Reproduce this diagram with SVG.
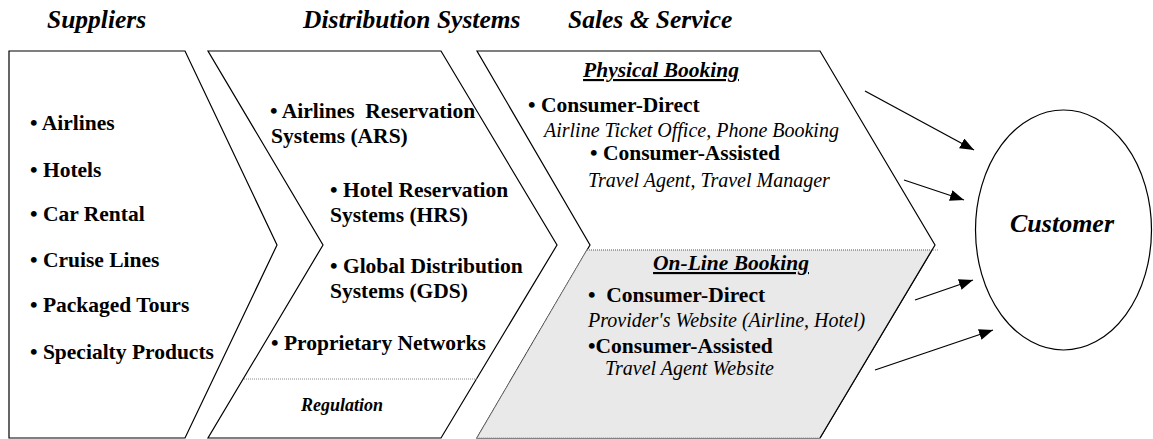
<svg xmlns="http://www.w3.org/2000/svg" width="1153" height="439" viewBox="0 0 1153 439">
  <style>
    .box { fill: #ffffff; stroke: #000000; stroke-width: 1.2; stroke-linejoin: miter; }
    .shade { fill: #e9e9e9; stroke: #8a8a8a; stroke-width: 1; stroke-dasharray: 1 1; }
    .rule { stroke: #8a8a8a; stroke-width: 1; stroke-dasharray: 1 1; fill: none; }
    .hdr { font-family: "Liberation Serif", "Times New Roman", serif; font-weight: bold; font-style: italic; font-size: 25.5px; fill: #000; }
    .item { font-family: "Liberation Serif", "Times New Roman", serif; font-weight: bold; font-size: 21.5px; fill: #000; white-space: pre; }
    .note { font-family: "Liberation Serif", "Times New Roman", serif; font-style: italic; font-size: 20px; fill: #000; }
    .title { font-family: "Liberation Serif", "Times New Roman", serif; font-weight: bold; font-style: italic; font-size: 21.5px; fill: #000; text-decoration: underline; }
    .small { font-family: "Liberation Serif", "Times New Roman", serif; font-weight: bold; font-style: italic; font-size: 18px; fill: #000; }
    .cust { font-family: "Liberation Serif", "Times New Roman", serif; font-weight: bold; font-style: italic; font-size: 26px; fill: #000; }
    .conn { stroke: #000; stroke-width: 1.3; fill: none; marker-end: url(#head); }
  </style>
  <defs>
    <marker id="head" markerUnits="userSpaceOnUse" markerWidth="15" markerHeight="12" refX="14" refY="5.5" orient="auto">
      <path d="M0,0 L14,5.5 L0,11 Z" fill="#000"/>
    </marker>
  </defs>

  <rect x="0" y="0" width="1153" height="439" fill="#ffffff"/>

  <!-- column headings -->
  <g id="headings">
    <text class="hdr" x="47" y="28">Suppliers</text>
    <text class="hdr" x="303" y="28">Distribution Systems</text>
    <text class="hdr" x="568" y="28">Sales &amp; Service</text>
  </g>

  <!-- suppliers chevron -->
  <g id="suppliers">
    <polygon class="box" points="9,51 185,51 277,245 185,438 9,438"/>
    <text class="item" x="30" y="130">• Airlines</text>
    <text class="item" x="30" y="177">• Hotels</text>
    <text class="item" x="30" y="221">• Car Rental</text>
    <text class="item" x="30" y="267">• Cruise Lines</text>
    <text class="item" x="30" y="312">• Packaged Tours</text>
    <text class="item" x="30" y="359">• Specialty Products</text>
  </g>

  <!-- distribution systems chevron -->
  <g id="distribution">
    <polygon class="box" points="208,51 441,51 557,245 441,438 208,438 323,245"/>
    <line class="rule" x1="244" y1="379" x2="477" y2="379"/>
    <text class="item" x="270" y="118">• Airlines  Reservation</text>
    <text class="item" x="271" y="143">Systems (ARS)</text>
    <text class="item" x="330" y="197">• Hotel Reservation</text>
    <text class="item" x="330" y="222">Systems (HRS)</text>
    <text class="item" x="330" y="273">• Global Distribution</text>
    <text class="item" x="330" y="298">Systems (GDS)</text>
    <text class="item" x="271" y="350">• Proprietary Networks</text>
    <text class="small" x="342" y="411" text-anchor="middle">Regulation</text>
  </g>

  <!-- sales & service chevron, split into physical and on-line booking -->
  <g id="sales">
    <polygon class="box" points="477,51 820,51 935,245 820,438 477,438 590,245"/>
    <polygon class="shade" points="587,250 932,250 820,438 477,438"/>
    <line class="rule" x1="587" y1="250" x2="939" y2="250"/>
    <line x1="932" y1="250" x2="820" y2="438" stroke="#000" stroke-width="1.2"/>
    <text class="title" x="661" y="77" text-anchor="middle">Physical Booking</text>
    <text class="item" x="528" y="112">• Consumer-Direct</text>
    <text class="note" x="544" y="137">Airline Ticket Office, Phone Booking</text>
    <text class="item" x="590" y="160">• Consumer-Assisted</text>
    <text class="note" x="588" y="187">Travel Agent, Travel Manager</text>
    <text class="title" x="731" y="270" text-anchor="middle">On-Line Booking</text>
    <text class="item" x="588" y="302">•  Consumer-Direct</text>
    <text class="note" x="588" y="327">Provider's Website (Airline, Hotel)</text>
    <text class="item" x="588" y="353">•Consumer-Assisted</text>
    <text class="note" x="605" y="375">Travel Agent Website</text>
  </g>

  <!-- customer -->
  <g id="customer">
    <ellipse cx="1063.5" cy="230" rx="88" ry="120" fill="#ffffff" stroke="#000" stroke-width="1.2"/>
    <text class="cust" x="1062" y="232" text-anchor="middle">Customer</text>
  </g>

  <!-- arrows into the customer -->
  <g id="connectors">
    <line class="conn" x1="865" y1="91" x2="974" y2="150"/>
    <line class="conn" x1="904" y1="180" x2="964" y2="200"/>
    <line class="conn" x1="915" y1="300" x2="973" y2="280"/>
    <line class="conn" x1="875" y1="370" x2="993" y2="330"/>
  </g>
</svg>
